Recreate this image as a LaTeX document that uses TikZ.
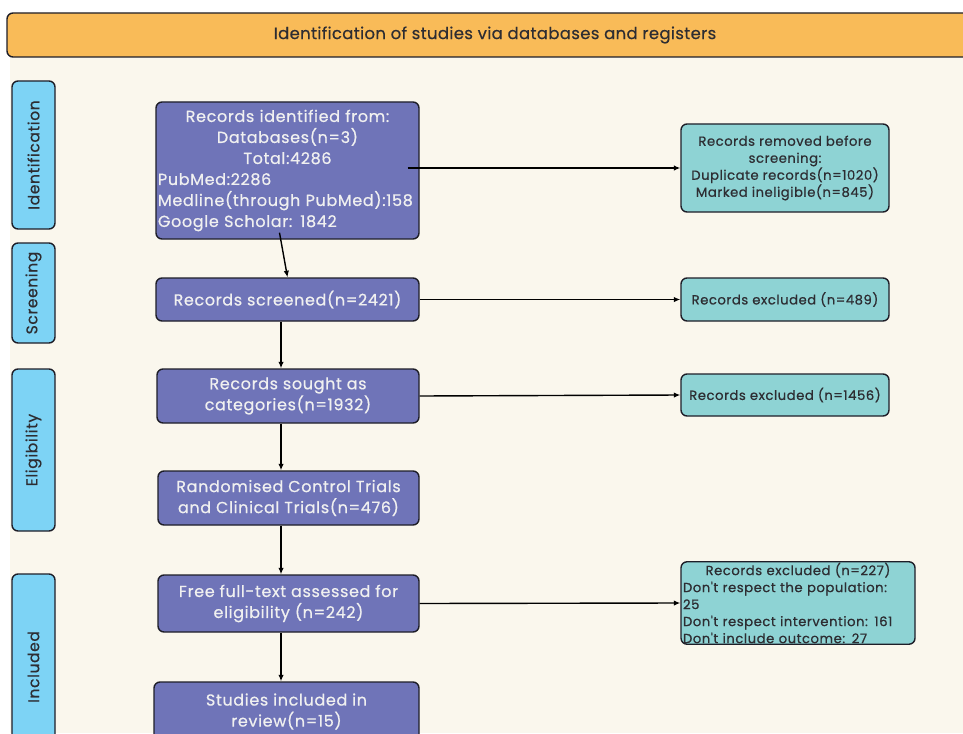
\documentclass[tikz,border=0pt]{standalone}
\usepackage{fontspec}
\setmainfont{Poppins}
\newfontfamily\boxfont[LetterSpace=4,FakeBold=0.6]{Poppins}
\newfontfamily\headfont[LetterSpace=2,FakeBold=0.4]{Poppins}
\usetikzlibrary{arrows.meta}
\definecolor{Cream}{RGB}{250,247,237}
\definecolor{Header}{RGB}{249,187,88}
\definecolor{Phase}{RGB}{125,211,245}
\definecolor{Purple}{RGB}{111,116,184}
\definecolor{Teal}{RGB}{142,211,212}
\definecolor{Edge}{RGB}{30,30,40}
\definecolor{Ink}{RGB}{45,45,50}

\tikzset{
  box/.style={draw=Edge, line width=1.4pt, rounded corners=6pt, inner sep=2pt},
  phase/.style={box, fill=Phase, text=Ink, font=\boxfont\fontsize{15.5}{18}\selectfont},
  stage/.style={box, fill=Purple, text=white!94!black, align=center,
    font=\boxfont\fontsize{16}{21}\selectfont},
  excl/.style={box, fill=Teal, text=Ink, align=center,
    font=\boxfont\fontsize{13.2}{17}\selectfont},
  flow/.style={line width=1.4pt, -{Latex[length=6.5pt,width=5.5pt]}}
}

\begin{document}
\begin{tikzpicture}[x=1pt, y=-1pt]
\clip (0,0) rectangle (963,733);
\fill[white] (0,0) rectangle (963,733);
\fill[Cream] (10,57) rectangle (963,733);

\node[box, fill=Header, text=Ink, minimum width=976pt, minimum height=44pt,
  font=\headfont\fontsize{16.5}{18}\selectfont] (hdr) at (495,35)
  {Identification of studies via databases and registers};

% phases
\foreach \y/\h/\name/\txt in {155/148/idf/Identification, 293/100/scrn/Screening,
    450/162/elig/Eligibility, 667/186/incl/Included}
  \node[phase, minimum width=\h pt, minimum height=43pt, rotate=90] (\name) at (33.5,\y) {\txt};

% stages
\node[stage, minimum width=263pt, minimum height=137pt, text width=259pt, align=left] (rid) at (287.5,170.5)
  {\centering Records identified from:\\ Databases(n=3)\\ Total:4286\par
   \raggedright PubMed:2286\\ Medline(through PubMed):158\\ Google Scholar: 1842\par};
\node[stage, minimum width=263pt, minimum height=43pt] (scr) at (287.5,299.5) {Records screened(n=2421)};
\node[stage, minimum width=262pt, minimum height=54pt] (sgt) at (288,396) {Records sought as\\ categories(n=1932)};
\node[stage, minimum width=261pt, minimum height=54pt] (rct) at (288.5,498) {Randomised Control Trials\\ and Clinical Trials(n=476)};
\node[stage, minimum width=261pt, minimum height=57pt] (fft) at (288.5,603.5) {Free full-text assessed for\\ eligibility (n=242)};
\node[stage, minimum width=265pt, minimum height=70pt, text depth=14pt] (inc) at (286.5,717) {Studies included in\\ review(n=15)};

% exclusions
\node[excl, minimum width=208pt, minimum height=88pt] (rmv) at (785,168)
  {Records removed before\\ screening:\\ Duplicate records(n=1020)\\ Marked ineligible(n=845)};
\node[excl, minimum width=208pt, minimum height=43pt] (ex1) at (785,299.5) {Records excluded (n=489)};
\node[excl, minimum width=208pt, minimum height=42pt] (ex2) at (785,395) {Records excluded (n=1456)};
\node[excl, minimum width=234pt, minimum height=80pt, text width=230pt, align=left, inner sep=1pt] (ex3) at (798,603)
  {\centering Records excluded (n=227)\par
   \raggedright Don't respect the population:\\ 25\\ Don't respect intervention: 161\\ Don't include outcome: 27\par};

% connectors
\coordinate (spine) at (281,0);
\draw[flow] ([xshift=-12pt]rmv.west -| rid.east) -- (rmv.west);
\draw[flow] ([xshift=-8pt,yshift=7pt]rid.south) -- (scr.north);
\draw[flow] (scr.south -| spine) -- (sgt.north -| spine);
\draw[flow] (sgt.south -| spine) -- (rct.north -| spine);
\draw[flow] (rct.south -| spine) -- (fft.north -| spine);
\draw[flow] (fft.south -| spine) -- (inc.north -| spine);
\draw[flow] (scr.east) -- (ex1.west);
\draw[flow] (sgt.east) -- (ex2.west);
\draw[flow] (fft.east -| scr.east) -- (ex3.west);
\end{tikzpicture}
\end{document}
